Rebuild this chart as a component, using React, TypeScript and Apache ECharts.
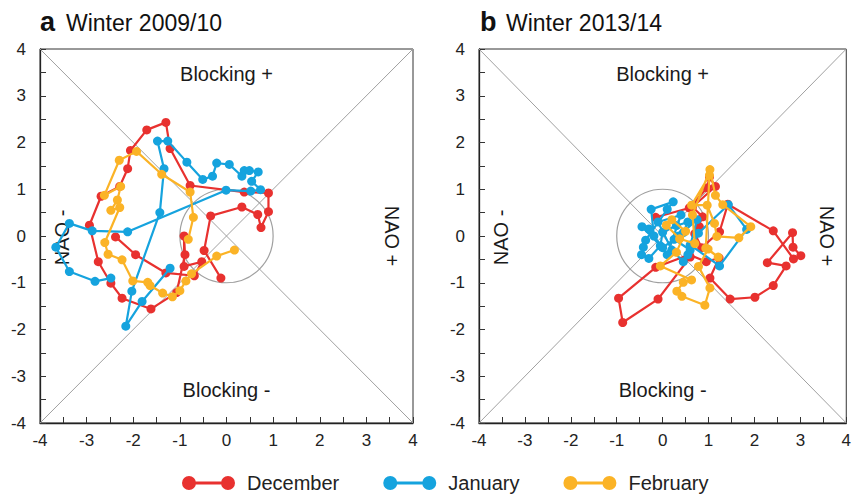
import React, { useEffect, useRef } from "react";
import * as echarts from "echarts";

const FONT = '"Liberation Sans", Arial, Helvetica, sans-serif';
const RED = "#e8312f";
const BLUE = "#15a3de";
const YELLOW = "#fbb326";
const GRAY = "#a0a0a0";

// Panel a: Winter 2009/10
const decA = [
  [-0.12, -0.9], [-0.48, -0.31], [-0.34, 0.43], [0.33, 0.62], [0.67, 0.46], [0.74, 0.18],
  [0.9, 0.52], [0.9, 0.92], [0.38, 0.94], [-0.78, 1.08], [-1.21, 1.87], [-1.3, 2.43],
  [-1.71, 2.27], [-2.06, 1.83], [-2.12, 1.44], [-2.29, 1.06], [-2.69, 0.85], [-2.94, 0.23],
  [-2.75, -0.55], [-2.48, -1.01], [-2.24, -1.33], [-1.62, -1.56], [-1.07, -1.21], [-0.89, -0.4],
  [-0.91, 0.0], [-0.91, -0.65], [-0.53, -0.55], [-0.69, -0.85], [-1.3, -0.79], [-1.95, -0.4],
  [-2.38, -0.02],
];
const janA = [
  [-1.21, -0.69], [-1.81, -1.4], [-2.16, -1.93], [-2.03, -1.18], [-1.43, 0.5], [-1.34, 1.44],
  [-1.48, 2.03], [-1.26, 2.03], [-0.85, 1.58], [-0.51, 1.21], [-0.3, 1.28], [-0.21, 1.56],
  [0.06, 1.53], [0.33, 1.28], [0.38, 1.4], [0.49, 1.4], [0.68, 1.37], [0.54, 1.17],
  [0.73, 0.99], [0.52, 0.96], [-0.01, 0.98], [-2.12, 0.09], [-2.88, 0.11], [-3.37, 0.27],
  [-3.66, -0.24], [-3.37, -0.76], [-2.82, -0.97], [-2.48, -0.9],
];
const febA = [
  [-0.82, -0.07], [-0.71, 0.4], [-0.78, 0.94], [-1.39, 1.32], [-1.93, 1.81], [-2.3, 1.62],
  [-2.62, 0.87], [-2.27, 1.06], [-2.34, 0.77], [-2.48, 0.55], [-2.29, 0.61], [-2.61, -0.14],
  [-2.54, -0.39], [-2.24, -0.51], [-2.01, -0.96], [-1.69, -0.99], [-1.64, -1.06], [-1.37, -1.22],
  [-1.16, -1.3], [-1.0, -1.17], [-0.87, -0.96], [-0.75, -0.81], [-0.21, -0.43], [0.17, -0.3],
];

// Panel b: Winter 2013/14
const decB = [
  [-0.15, 0.4], [0.58, 0.6], [0.97, 1.03], [1.02, 1.26], [1.15, 1.06], [0.65, 0.62],
  [0.87, 0.41], [0.7, 0.05], [0.85, -0.25], [1.24, 0.09], [1.42, 0.68], [2.41, 0.11],
  [2.85, -0.49], [3.01, -0.42], [2.84, -0.24], [2.83, 0.07], [2.28, -0.57], [2.69, -0.64],
  [2.41, -1.06], [2.01, -1.31], [1.47, -1.35], [1.03, -0.9], [1.23, -0.47], [0.95, -0.55],
  [0.58, -0.4], [-0.15, -0.67], [-0.96, -1.33], [-0.87, -1.85], [-0.1, -1.35], [0.6, -0.45],
  [0.8, 0.2],
];
const janB = [
  [-0.19, 0.0], [-0.25, 0.57], [0.23, 0.73], [0.1, 0.57], [-0.37, -0.09], [-0.42, -0.24],
  [-0.46, -0.4], [-0.3, -0.48], [-0.05, -0.21], [0.0, 0.08], [0.3, 0.22], [0.55, 0.3],
  [0.45, 0.07], [0.25, -0.07], [0.6, -0.3], [0.78, 0.06], [1.43, 0.67], [1.83, 0.14],
  [1.24, -0.64], [0.6, -0.19], [0.45, -0.55], [0.2, -0.3], [-0.1, 0.3], [0.4, 0.45],
  [0.1, -0.4], [-0.3, 0.15], [-0.45, 0.2], [0.0, -0.25], [0.35, 0.0], [0.75, 0.35],
  [0.55, -0.4],
];
const febB = [
  [0.08, 0.23], [0.37, -0.06], [0.7, -0.16], [0.65, 0.45], [1.03, 1.42], [1.15, 0.87],
  [1.31, 0.67], [1.92, 0.2], [1.66, -0.04], [1.18, -0.01], [1.13, 0.27], [0.97, 0.66],
  [0.63, 0.66], [1.02, 1.3], [0.94, -0.26], [1.21, -0.45], [0.99, -0.28], [0.78, -0.65],
  [1.03, -1.11], [0.92, -1.48], [0.42, -1.29], [0.31, -1.18], [0.45, -0.99], [0.63, -0.94],
  [-0.05, -0.64], [0.3, -0.35], [0.5, 0.1], [0.2, 0.35],
];

const months = ["December", "January", "February"];
const monthColors = [RED, BLUE, YELLOW];
const panelData = [
  [decA, janA, febA],
  [decB, janB, febB],
];
const panelLetters = ["a", "b"];
const panelTitles = ["Winter 2009/10", "Winter 2013/14"];

const regionLabels = ["Blocking +", "Blocking -", "NAO -", "NAO +"];
const regionPosA = [[0, 3.47], [0, -3.3], [-3.53, -0.03], [3.55, 0.0]];
const regionPosB = [[0, 3.47], [0, -3.3], [-3.51, -0.03], [3.57, 0.0]];
const regionRot = [0, 0, 90, -90];

const diag1 = [[-4, -4], [4, 4]];
const diag2 = [[-4, 4], [4, -4]];

const DUMBBELL =
  "path://M0,7 A7,7 0 1,1 14,7 A7,7 0 1,1 0,7 Z M39,7 A7,7 0 1,1 53,7 A7,7 0 1,1 39,7 Z M10,5.6 L43,5.6 L43,8.4 L10,8.4 Z";

function axisCommon() {
  return {
    type: "value",
    min: -4,
    max: 4,
    interval: 1,
    axisLine: { show: true, onZero: false, lineStyle: { color: "#222", width: 1.3 } },
    axisTick: { show: true, inside: true, length: 6, lineStyle: { color: "#333", width: 1 } },
    minorTick: { show: true, splitNumber: 2, length: 6, lineStyle: { color: "#333", width: 1 } },
    splitLine: { show: false },
    minorSplitLine: { show: false },
    axisLabel: { color: "#222", fontSize: 17, fontFamily: FONT },
  };
}

export default function App() {
  const ref = useRef<HTMLDivElement>(null);
  useEffect(() => {
    if (!ref.current) return;
    const chart = echarts.init(ref.current, null, { renderer: "svg" });
    const grids = [
      { left: 40, top: 49, width: 373, height: 374 },
      { left: 479, top: 49, width: 373, height: 374 },
    ].map((g) => ({ ...g, show: true, borderColor: "#333", borderWidth: 1, backgroundColor: "transparent" }));

    const xAxes = [0, 1].map((i) => ({ ...axisCommon(), gridIndex: i, axisLabel: { ...axisCommon().axisLabel, margin: 9 } }));
    const yAxes = [0, 1].map((i) => ({ ...axisCommon(), gridIndex: i, axisLabel: { ...axisCommon().axisLabel, margin: 14 } }));

    const series: any[] = [];
    [0, 1].forEach((p) => {
      [diag1, diag2].forEach((d) => {
        series.push({
          type: "line",
          xAxisIndex: p,
          yAxisIndex: p,
          data: d,
          symbol: "none",
          silent: true,
          z: 1,
          lineStyle: { color: GRAY, width: 1 },
        });
      });
      series.push({
        type: "custom",
        xAxisIndex: p,
        yAxisIndex: p,
        data: [[0, 0]],
        silent: true,
        z: 1,
        renderItem: (params: any, api: any) => {
          const c = api.coord([api.value(0), api.value(1)]);
          const s = api.size([1, 1]);
          return {
            type: "ellipse",
            shape: { cx: c[0], cy: c[1], rx: s[0], ry: s[1] },
            style: { fill: "none", stroke: GRAY, lineWidth: 1.2 },
          };
        },
      });
      const pos = p === 0 ? regionPosA : regionPosB;
      series.push({
        type: "custom",
        xAxisIndex: p,
        yAxisIndex: p,
        data: pos,
        silent: true,
        z: 2,
        renderItem: (params: any, api: any) => {
          const c = api.coord([api.value(0), api.value(1)]);
          const i = params.dataIndex;
          return {
            type: "text",
            x: c[0],
            y: c[1],
            rotation: (regionRot[i] * Math.PI) / 180,
            style: {
              text: regionLabels[i],
              fontSize: 20,
              fontFamily: FONT,
              fill: "#1a1a1a",
              align: "center",
              verticalAlign: "middle",
            },
          };
        },
      });
      panelData[p].forEach((d, m) => {
        series.push({
          name: months[m],
          type: "line",
          xAxisIndex: p,
          yAxisIndex: p,
          data: d,
          symbol: "circle",
          symbolSize: 9,
          showAllSymbol: true,
          z: 3 + m,
          itemStyle: { color: monthColors[m] },
          lineStyle: { color: monthColors[m], width: 2.2 },
        });
      });
    });

    const graphic: any[] = [];
    [0, 1].forEach((p) => {
      const x0 = p === 0 ? 40 : 480;
      graphic.push({
        type: "text",
        left: x0,
        top: 8,
        style: { text: panelLetters[p], font: `bold 27px ${FONT}`, fill: "#111" },
      });
      graphic.push({
        type: "text",
        left: x0 + 26,
        top: 11,
        style: { text: panelTitles[p], font: `23px ${FONT}`, fill: "#111" },
      });
    });

    chart.setOption({
      animation: false,
      grid: grids,
      xAxis: xAxes,
      yAxis: yAxes,
      series,
      graphic,
      legend: {
        data: months,
        left: 177,
        top: 468,
        icon: DUMBBELL,
        itemWidth: 53,
        itemHeight: 14,
        itemGap: 44,
        textStyle: { fontSize: 20, fontFamily: FONT, color: "#222", padding: [0, 0, 0, 7] },
        selectedMode: false,
      },
    });
    return () => chart.dispose();
  }, []);
  return (
    <div
      ref={ref}
      style={{ position: "fixed", left: 0, top: 0, width: 854, height: 494, background: "#fff" }}
    />
  );
}
